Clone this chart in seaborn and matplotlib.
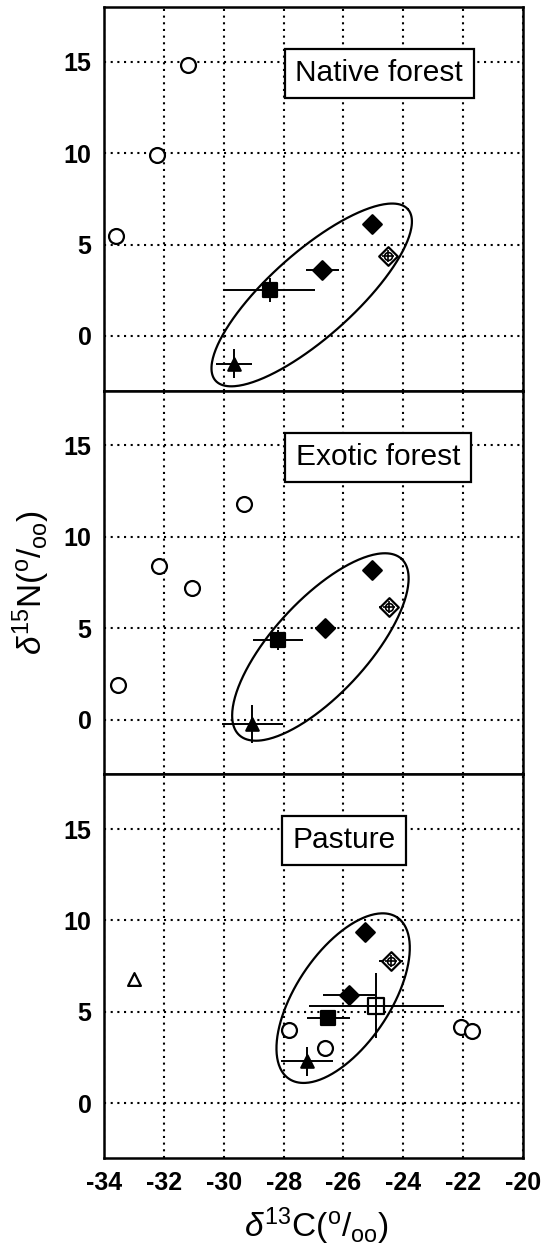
import numpy as np
import pandas as pd
import matplotlib
matplotlib.use("Agg")
import matplotlib.pyplot as plt
import seaborn as sns

# ---------------- data ----------------
panels = ["Native forest", "Exotic forest", "Pasture"]
x_ticks = [-34, -32, -30, -28, -26, -24, -22, -20]
y_ticks = [0, 5, 10, 15]

# open circles, per panel
circle_x = [[-31.2, -32.24, -33.6],
            [-29.31, -32.17, -31.05, -33.52],
            [-27.82, -26.6, -22.06, -21.72]]
circle_y = [[14.8, 9.9, 5.45],
            [11.81, 8.38, 7.2, 1.9],
            [4.0, 3.03, 4.19, 3.95]]

# filled diamonds (no error bars)
diamond_x = [-25.04, -25.04, -25.27]
diamond_y = [6.14, 8.16, 9.39]

# crossed (open) diamonds
xdiamond_x = [-24.51, -24.49, -24.41]
xdiamond_y = [4.37, 6.17, 7.8]
xdiamond_xerr = [0.0, 0.33, 0.4]

# filled diamonds with error bars
ediamond_x = [-26.71, -26.6, -25.8]
ediamond_y = [3.58, 5.0, 5.94]
ediamond_xerr = [0.55, 0.36, 0.88]
ediamond_yerr = [0.5, 0.3, 0.3]

# filled squares
square_x = [-28.47, -28.19, -26.5]
square_y = [2.52, 4.36, 4.65]
square_xerr = [1.53, 0.83, 0.72]
square_yerr = [0.67, 0.56, 0.4]

# filled triangles
triangle_x = [-29.66, -29.05, -27.22]
triangle_y = [-1.53, -0.25, 2.3]
triangle_xerr = [0.61, 1.02, 0.86]
triangle_yerr = [0.8, 1.04, 0.8]

# pasture only
otriangle_x = [-33.0]
otriangle_y = [6.8]
osquare_x = [-24.9]
osquare_y = [5.33]
osquare_xerr = [2.26]
osquare_yerr = [1.77]

# ellipses: centre and two conjugate semi-axis vectors (data units)
ell_cx = [-27.06, -26.77, -26.01]
ell_cy = [2.24, 3.97, 5.75]
ell_u = [(3.214, 4.691), (2.707, 4.830), (1.814, 4.410)]
ell_v = [(-0.940, 1.737), (-1.168, 1.728), (-1.293, 1.449)]

# label box positions (data units)
label_x = [-24.8, -24.85, -25.98]
label_y = [14.38, 14.35, 14.39]

# ---------------- style ----------------
sns.set_theme(style="white")
plt.rcParams["font.family"] = ["Liberation Sans", "DejaVu Sans"]
plt.rcParams["mathtext.fontset"] = "custom"
plt.rcParams["mathtext.rm"] = "Liberation Sans"
plt.rcParams["mathtext.it"] = "Liberation Sans:italic"
plt.rcParams["mathtext.bf"] = "Liberation Sans:bold"
for k in ["text.color", "axes.labelcolor", "xtick.color", "ytick.color",
          "xtick.labelcolor", "ytick.labelcolor"]:
    plt.rcParams[k] = "black"

fig = plt.figure(figsize=(5.46, 12.47), dpi=100)
left, width = 104 / 546, (523 - 104) / 546
bottom0 = 1 - 1158 / 1247
top0 = 1 - 7 / 1247
h = (top0 - bottom0) / 3

axes = []
for i in range(3):
    b = top0 - (i + 1) * h
    ax = fig.add_axes([left, b, width, h], sharex=axes[0] if axes else None)
    axes.append(ax)

EW = 1.6
for i, ax in enumerate(axes):
    ax.set_xlim(-34, -20)
    ax.set_ylim(-3, 18)
    ax.set_xticks(x_ticks)
    ax.set_yticks(y_ticks)
    ax.grid(True, color="black", linestyle=(0, (1, 2.2)), linewidth=1.5)
    ax.set_axisbelow(True)
    for sp in ax.spines.values():
        sp.set_linewidth(1.8)
        sp.set_color("black")
    ax.tick_params(direction="in", length=3, width=1, color="black",
                   labelcolor="black", labelsize=18, pad=9)
    for lab in ax.get_yticklabels():
        lab.set_fontweight("bold")
    if i < 2:
        ax.tick_params(labelbottom=False)
    else:
        ax.set_xticklabels([str(t) for t in x_ticks], fontweight="bold")

    # ellipse
    t = np.linspace(0, 2 * np.pi, 300)
    ex = ell_cx[i] + ell_u[i][0] * np.cos(t) + ell_v[i][0] * np.sin(t)
    ey = ell_cy[i] + ell_u[i][1] * np.cos(t) + ell_v[i][1] * np.sin(t)
    sns.lineplot(x=ex, y=ey, ax=ax, sort=False, color="black", linewidth=1.6,
                 estimator=None)

    # error bars
    ebk = dict(fmt="none", ecolor="black", elinewidth=1.4, capsize=0, zorder=3)
    ax.errorbar([ediamond_x[i]], [ediamond_y[i]], xerr=[ediamond_xerr[i]],
                yerr=[ediamond_yerr[i]], **ebk)
    ax.errorbar([square_x[i]], [square_y[i]], xerr=[square_xerr[i]],
                yerr=[square_yerr[i]], **ebk)
    ax.errorbar([triangle_x[i]], [triangle_y[i]], xerr=[triangle_xerr[i]],
                yerr=[triangle_yerr[i]], **ebk)
    if xdiamond_xerr[i] > 0:
        ax.errorbar([xdiamond_x[i]], [xdiamond_y[i]], xerr=[xdiamond_xerr[i]], **ebk)

    # markers
    sk = dict(ax=ax, legend=False, zorder=4)
    sns.scatterplot(x=circle_x[i], y=circle_y[i], marker="o", s=115,
                    color="white", edgecolor="black", linewidth=EW, **sk)
    sns.scatterplot(x=[diamond_x[i]], y=[diamond_y[i]], marker="D", s=90,
                    color="black", edgecolor="black", linewidth=EW, **sk)
    sns.scatterplot(x=[ediamond_x[i]], y=[ediamond_y[i]], marker="D", s=90,
                    color="black", edgecolor="black", linewidth=EW, **sk)
    sns.scatterplot(x=[xdiamond_x[i]], y=[xdiamond_y[i]], marker="D", s=90,
                    color="white", edgecolor="black", linewidth=EW, **sk)
    sns.scatterplot(x=[xdiamond_x[i]], y=[xdiamond_y[i]], marker="o", s=32,
                    color="white", edgecolor="black", linewidth=1.2, **sk)
    sns.scatterplot(x=[xdiamond_x[i]], y=[xdiamond_y[i]], marker="+", s=65,
                    color="black", linewidth=1.2, **sk)
    sns.scatterplot(x=[square_x[i]], y=[square_y[i]], marker="s", s=105,
                    color="black", edgecolor="black", linewidth=EW, **sk)
    sns.scatterplot(x=[triangle_x[i]], y=[triangle_y[i]], marker="^", s=80,
                    color="black", edgecolor="black", linewidth=EW, **sk)
    if i == 2:
        sns.scatterplot(x=otriangle_x, y=otriangle_y, marker="^", s=85,
                        color="white", edgecolor="black", linewidth=EW, **sk)
        ax.errorbar(osquare_x, osquare_y, xerr=osquare_xerr, yerr=osquare_yerr,
                    fmt="none", ecolor="black", elinewidth=1.4, capsize=0, zorder=5)
        sns.scatterplot(x=osquare_x, y=osquare_y, marker="s", s=130,
                        color="white", edgecolor="black", linewidth=EW,
                        ax=ax, legend=False, zorder=4)

    # panel label box
    ax.text(label_x[i], label_y[i], panels[i], fontsize=21.5, ha="center",
            va="center", zorder=6, color="black",
            bbox=dict(boxstyle="square,pad=0.35", facecolor="white",
                      edgecolor="black", linewidth=1.6))
    ax.set_xlabel("")
    ax.set_ylabel("")

axes[1].set_ylabel(r"$\delta^{15}$N($^{\mathrm{o}}$/$_{\mathrm{oo}}$)",
                   fontsize=24, color="black")
axes[1].yaxis.set_label_coords(-0.125, 0.5)
axes[2].set_xlabel(r"$\delta^{13}$C($^{\mathrm{o}}$/$_{\mathrm{oo}}$)",
                   fontsize=24, color="black")
axes[2].xaxis.set_label_coords(0.508, -0.125)
axes[2].xaxis.label.set_va("top")

fig.savefig("out.png", dpi=100)
